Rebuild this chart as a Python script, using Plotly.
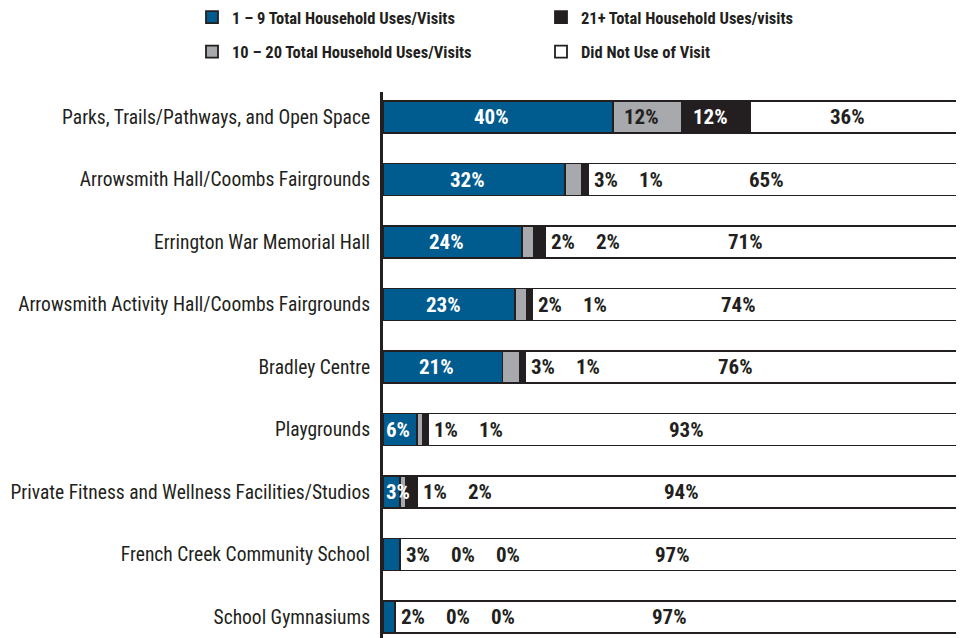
import plotly.graph_objects as go

categories = [
    "Parks, Trails/Pathways, and Open Space",
    "Arrowsmith Hall/Coombs Fairgrounds",
    "Errington War Memorial Hall",
    "Arrowsmith Activity Hall/Coombs Fairgrounds",
    "Bradley Centre",
    "Playgrounds",
    "Private Fitness and Wellness Facilities/Studios",
    "French Creek Community School",
    "School Gymnasiums",
]
uses_1_9 = [40, 32, 24, 23, 21, 6, 3, 3, 2]
uses_10_20 = [12, 3, 2, 2, 3, 1, 1, 0, 0]
uses_21_plus = [12, 1, 2, 1, 1, 1, 2, 0, 0]
did_not_use = [36, 65, 71, 74, 76, 93, 94, 97, 97]

series_names = [
    "1 \u2013 9 Total Household Uses/Visits",
    "10 \u2013 20 Total Household Uses/Visits",
    "21+ Total Household Uses/visits",
    "Did Not Use of Visit",
]
# how many leading segments in each row carry their label inside the bar
inside_count = [3, 1, 1, 1, 1, 1, 1, 0, 0]

FONT = "Liberation Sans Narrow, Roboto Condensed, DejaVu Sans Condensed, Arial Narrow, sans-serif"
DARK = "#231f20"
colors = ["#005b8f", "#a7a9ac", "#231f20", "#ffffff"]
label_colors = ["#ffffff", DARK, "#ffffff", DARK]
legend_ids = ["legend", "legend", "legend2", "legend2"]

series = [uses_1_9, uses_10_20, uses_21_plus, did_not_use]

fig = go.Figure()
for name, vals, col, lg in zip(series_names, series, colors, legend_ids):
    fig.add_trace(go.Bar(
        y=categories, x=vals, name=name, orientation="h",
        marker=dict(color=col, line=dict(color=DARK, width=1.8)),
        legend=lg, legendgroup=name, hoverinfo="skip",
    ))

LBL = 21
annotations = []
for i, cat in enumerate(categories):
    vals = [s[i] for s in series]
    total = sum(vals)
    norm = [v / total * 100 for v in vals]
    cum = [sum(norm[:k]) for k in range(5)]
    # inside labels
    for k in range(inside_count[i]):
        if k == 0 and vals[0] < 8:
            annotations.append(dict(x=0, y=cat, text=f"{vals[0]}%", xanchor="left", xshift=1,
                                    showarrow=False, font=dict(family=FONT, size=LBL, color="#ffffff")))
        else:
            annotations.append(dict(x=(cum[k] + cum[k + 1]) / 2, y=cat, text=f"{vals[k]}%",
                                    xanchor="center", xshift=-6, showarrow=False,
                                    font=dict(family=FONT, size=LBL, color=label_colors[k])))
    # outside labels of the small segments, set into the white bar
    for j, k in enumerate(range(inside_count[i], 3)):
        annotations.append(dict(x=cum[3], y=cat, text=f"{vals[k]}%", xanchor="center",
                                xshift=18 + 45 * j, showarrow=False,
                                font=dict(family=FONT, size=LBL, color=DARK)))
    # "did not use" label
    annotations.append(dict(x=(cum[3] + cum[4]) / 2, y=cat, text=f"{vals[3]}%", xanchor="center",
                            xshift=-6, showarrow=False, font=dict(family=FONT, size=LBL, color=DARK)))

legend_common = dict(orientation="v", xref="container", yref="paper", xanchor="left",
                     yanchor="top", traceorder="grouped", tracegroupgap=10,
                     font=dict(family=FONT, size=16.5, color=DARK, weight="bold"),
                     bgcolor="rgba(0,0,0,0)")

fig.update_layout(
    width=964, height=638,
    barmode="stack", barnorm="percent", bargap=0.49,
    plot_bgcolor="white", paper_bgcolor="white",
    margin=dict(l=375, r=13, t=84, b=8, autoexpand=False),
    font=dict(family=FONT, size=19, color=DARK),
    xaxis=dict(range=[0, 100.3], visible=False, fixedrange=True),
    yaxis=dict(range=[8.336, -0.4], showline=True, linecolor=DARK, linewidth=3,
               showgrid=False, ticks="", ticklabelstandoff=6, automargin=False,
               tickfont=dict(family=FONT, size=19.5, color=DARK)),
    legend=dict(x=184 / 964, y=1.1685, **legend_common),
    legend2=dict(x=533 / 964, y=1.1685, **legend_common),
    annotations=annotations,
    showlegend=True,
)
for a in fig.layout.annotations:
    a.font.weight = "bold"

fig.write_html("out.html")
